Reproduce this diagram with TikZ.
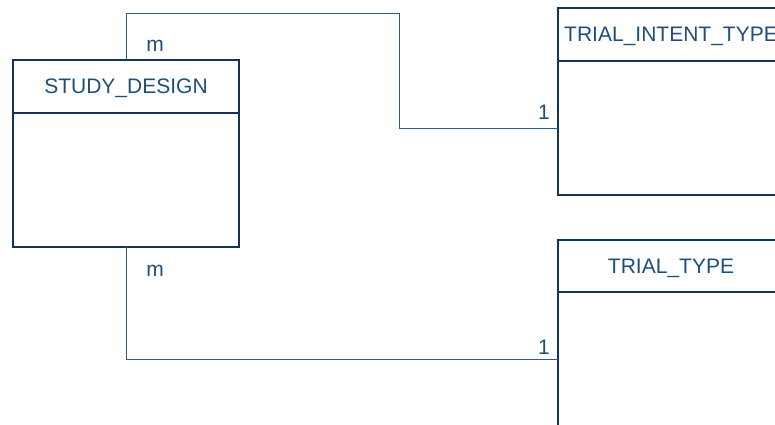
\documentclass[tikz,border=0pt]{standalone}
\usepackage{fontspec}
\setmainfont{Liberation Sans}
\usepackage{tikz}
\usetikzlibrary{positioning}
\definecolor{boxline}{RGB}{18,52,92}
\definecolor{labeltext}{RGB}{31,78,121}
\definecolor{relline}{RGB}{45,92,140}

\tikzset{
  ehead/.style={draw=boxline,line width=2pt,minimum width=226pt,minimum height=53pt,
    outer sep=0pt,inner sep=0pt,text height=14.5pt,text depth=0pt,
    text=labeltext,font=\fontsize{21}{24}\selectfont},
  ebody/.style={draw=boxline,line width=2pt,minimum width=226pt,minimum height=134pt,
    outer sep=0pt,inner sep=0pt},
  rel/.style={draw=relline,line width=1pt},
  card/.style={text=labeltext,font=\fontsize{21}{24}\selectfont,inner sep=0pt}
}

\begin{document}
\begin{tikzpicture}[x=1pt,y=-1pt]
    \useasboundingbox (0,0) rectangle (775,424);

    % Entities
    \node[ehead] (sdhead) at (126,86.5) {STUDY\_DESIGN};
    \node[ebody,below=0pt of sdhead] (sdbody) {};

    \node[ehead] (tihead) at (671,34.5) {TRIAL\_INTENT\_TYPE};
    \node[ebody,below=0pt of tihead] (tibody) {};

    \node[ehead,minimum height=52pt] (tthead) at (671,266) {TRIAL\_TYPE};
    \node[ebody,below=0pt of tthead] (ttbody) {};

    % Relationships
    \coordinate (bend) at (399,13);
    \draw[rel] (sdhead.north) |- (bend) |- (tibody.west);
    \draw[rel] (sdbody.south) |- (ttbody.west);

    % Cardinalities
    \node[card] (c1) at (155,46) {m};
    \node[card] (c2) at (544,112) {1};
    \node[card] (c3) at (155,271) {m};
    \node[card] (c4) at (544,347) {1};
\end{tikzpicture}
\end{document}
